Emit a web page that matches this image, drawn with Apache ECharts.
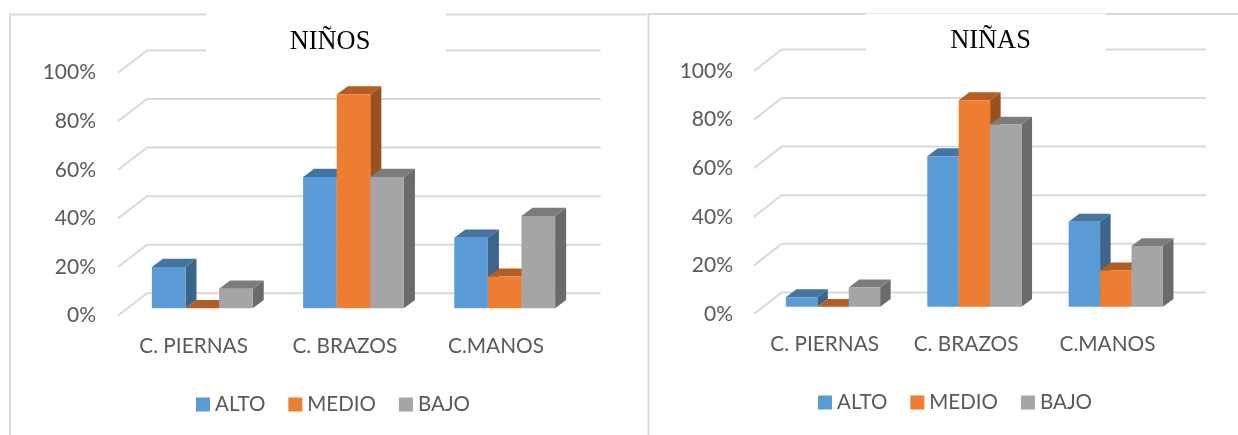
<!DOCTYPE html>
<html>
<head>
<meta charset="utf-8">
<style>
html, body { margin: 0; padding: 0; background: #fff; }
#graph { width: 1238px; height: 435px; }
</style>
<script src="https://cdn.jsdelivr.net/npm/echarts@6/dist/echarts.min.js"></script>
</head>
<body>
<div id="graph"></div>
<script>
"use strict"

const categories = ["C. PIERNAS", "C. BRAZOS", "C.MANOS"];
const levels = ["ALTO", "MEDIO", "BAJO"];
const yTicks = [0, 20, 40, 60, 80, 100];

const ninosAlto = [17, 54, 29];
const ninosMedio = [0, 88, 13];
const ninosBajo = [8, 54, 38];

const ninasAlto = [4, 62, 35];
const ninasMedio = [0, 85, 15];
const ninasBajo = [8, 75, 25];

const faceColors = ["#5B9BD5", "#ED7D31", "#A5A5A5"];
const topColors = ["#4474A0", "#B25E25", "#7C7C7C"];
const sideColors = ["#3B658A", "#9A5120", "#6B6B6B"];
const lineColor = "#D9D9D9";
const textColor = "#595959";
const sans = "Lato, 'Open Sans', sans-serif";

const depthNinos = [29, 22.2], depthNinas = [27.7, 21.6];

function wallRender(depth)
{
    return (params, api) =>
    {
        const cs = params.coordSys;
        const y = api.coord([0, api.value(0)])[1];
        return {
            type: "polyline",
            shape: { points: [[cs.x, y], [cs.x + depth[0], y - depth[1]], [cs.x + cs.width + depth[0], y - depth[1]]] },
            style: { stroke: lineColor, lineWidth: 2, fill: null }
        };
    };
}

function barRender(slot, depth)
{
    return (params, api) =>
    {
        const band = api.size([1, 0])[0];
        const w = band / 4.5;
        const [cx, y0] = api.coord([api.value(0), 0]);
        const yv = api.coord([0, api.value(1)])[1];
        const ox = depth[0] * 0.3, oy = depth[1] * 0.33;
        const dx = depth[0] * 0.38, dy = depth[1] * 0.37;
        const l = cx + ox - 1.5 * w + slot * w, r = l + w;
        const b = y0 - oy, t = yv - oy;
        return {
            type: "group",
            children: [
                { type: "polygon", shape: { points: [[r, t], [r + dx, t - dy], [r + dx, b - dy], [r, b]] }, style: { fill: sideColors[slot] } },
                { type: "polygon", shape: { points: [[l, t], [l + dx, t - dy], [r + dx, t - dy], [r, t]] }, style: { fill: topColors[slot] } },
                { type: "rect", shape: { x: l, y: t, width: w, height: b - t }, style: { fill: faceColors[slot] } }
            ]
        };
    };
}

function makeSeries(axisIdx, depth, valueLists)
{
    const series = [{
        type: "custom",
        xAxisIndex: axisIdx,
        yAxisIndex: axisIdx,
        z: 1,
        silent: true,
        data: yTicks.map(v => [v]),
        encode: { y: 0 },
        renderItem: wallRender(depth)
    }];
    valueLists.forEach((vals, slot) =>
    {
        series.push({
            name: levels[slot],
            type: "custom",
            xAxisIndex: axisIdx,
            yAxisIndex: axisIdx,
            z: 3,
            itemStyle: { color: faceColors[slot] },
            data: vals.map((v, i) => [i, v]),
            encode: { x: 0, y: 1 },
            renderItem: barRender(slot, depth)
        });
    });
    return series;
}

function xAxisOf(gridIndex, margin)
{
    return {
        type: "category",
        gridIndex: gridIndex,
        data: categories,
        axisLine: { show: false },
        axisTick: { show: false },
        splitLine: { show: false },
        axisLabel: { color: textColor, fontFamily: sans, fontSize: 20.8, margin: margin, interval: 0 }
    };
}

function yAxisOf(gridIndex, margin, padTop)
{
    return {
        type: "value",
        gridIndex: gridIndex,
        min: 0,
        max: 100,
        interval: 20,
        axisLine: { show: false },
        axisTick: { show: false },
        splitLine: { show: false },
        axisLabel: { color: textColor, fontFamily: sans, fontSize: 21, margin: margin, padding: [padTop, 0, 0, 0], formatter: "{value}%" }
    };
}

function legendOf(left, top)
{
    return {
        left: left,
        top: top,
        padding: 0,
        orient: "horizontal",
        data: levels,
        icon: "rect",
        itemWidth: 14,
        itemHeight: 14,
        itemGap: 23,
        selectedMode: false,
        textStyle: { color: textColor, fontFamily: sans, fontSize: 20.5 }
    };
}

function frameLine(x1, y1, x2, y2, width)
{
    return { type: "line", z: 5, silent: true, shape: { x1: x1, y1: y1, x2: x2, y2: y2 }, style: { stroke: lineColor, lineWidth: width } };
}

const titleFont = { color: "#000", fontFamily: "'Liberation Serif', serif", fontSize: 26.4, fontWeight: "normal" };

const myChart = echarts.init(document.getElementById("graph"), null, { renderer: "canvas" });
myChart.setOption({
    animation: false,
    backgroundColor: "#fff",
    title: [
        { text: "NIÑOS", left: 325, top: 24, textAlign: "center", textStyle: titleFont },
        { text: "NIÑAS", left: 985.5, top: 23, textAlign: "center", textStyle: titleFont }
    ],
    grid: [
        { left: 118, top: 72.7, width: 453.6, height: 242.8 },
        { left: 754, top: 71, width: 424.2, height: 243 }
    ],
    xAxis: [xAxisOf(0, 20), xAxisOf(1, 20)],
    yAxis: [yAxisOf(0, 22, 3), yAxisOf(1, 21, 1)],
    legend: [legendOf(196, 394), legendOf(818, 392)],
    series: makeSeries(0, depthNinos, [ninosAlto, ninosMedio, ninosBajo])
        .concat(makeSeries(1, depthNinas, [ninasAlto, ninasMedio, ninasBajo])),
    graphic: [
        { type: "rect", z: 2, silent: true, shape: { x: 206, y: 20, width: 240, height: 36 }, style: { fill: "#fff" } },
        { type: "rect", z: 2, silent: true, shape: { x: 866, y: 20, width: 240, height: 36 }, style: { fill: "#fff" } },
        frameLine(10, 14.5, 10, 435, 2),
        frameLine(9, 14.5, 206, 14.5, 2),
        frameLine(446, 14.5, 647, 14.5, 2),
        frameLine(648.5, 14, 648.5, 435, 2),
        frameLine(648, 14, 866, 14, 2),
        { type: "line", z: 5, silent: true, shape: { x1: 866, y1: 13.5, x2: 1106, y2: 13.5 }, style: { stroke: "#E8E8E8", lineWidth: 1 } },
        frameLine(1106, 14, 1238, 14, 2)
    ]
});
</script>
</body>
</html>
